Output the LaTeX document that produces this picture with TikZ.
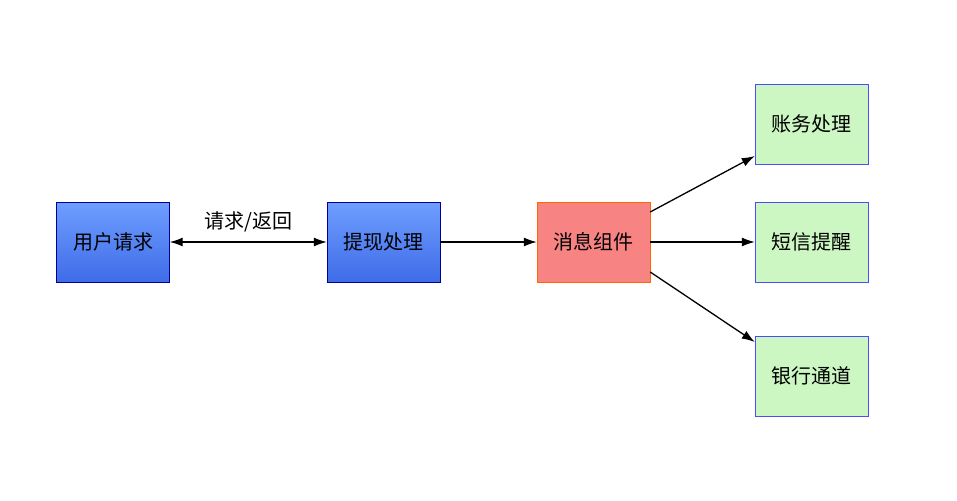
\documentclass[tikz,border=0pt]{standalone}
\usepackage{fontspec}
\newfontfamily\cjk{Noto Sans CJK SC}
\usetikzlibrary{arrows.meta}
\begin{document}
\begin{tikzpicture}[x=1pt,y=-1pt,
  box/.style={minimum width=113pt,minimum height=80pt,inner sep=0pt,font=\cjk\fontsize{20}{24}\selectfont},
  tip/.style={Latex[length=13pt,width=9pt]},
  arr/.style={-{Latex[length=13pt,width=9pt]},line width=1.3pt}]
\definecolor{bt}{HTML}{6E9EFF}\definecolor{bb}{HTML}{3F6CE8}
\definecolor{rf}{HTML}{F88383}\definecolor{gf}{HTML}{CCF7C2}
\useasboundingbox (0,0) rectangle (957,500);
\node[box,draw=blue!60!black,top color=bt,bottom color=bb] (a) at (113,242) {用户请求};
\node[box,draw=blue!60!black,top color=bt,bottom color=bb] (b) at (383.5,242) {提现处理};
\node[box,draw=orange!80!red,fill=rf] (c) at (593.5,242) {消息组件};
\node[box,draw=blue!70,fill=gf] (d) at (811.5,124) {账务处理};
\node[box,draw=blue!70,fill=gf] (e) at (811.5,242) {短信提醒};
\node[box,draw=blue!70,fill=gf] (f) at (811.5,376) {银行通道};
\draw[{Latex[length=13pt,width=9pt]}-{Latex[length=13pt,width=9pt]},line width=1.3pt] (a) -- node[above=6pt,font=\cjk\fontsize{20}{24}\selectfont] (l) {请求/返回} (b);
\draw[arr] (b) -- (c);
\draw[arr] (c.east) -- (e.west);
\draw[arr] ([yshift=30pt]c.east) -- ([yshift=-32pt]d.west);
\draw[arr] ([yshift=-30pt]c.east) -- ([yshift=34pt]f.west);
\end{tikzpicture}
\end{document}
